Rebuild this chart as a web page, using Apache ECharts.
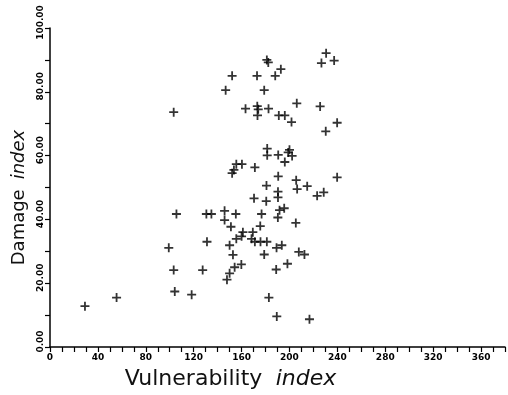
<!DOCTYPE html>
<html>
<head>
<meta charset="utf-8">
<script src="https://cdn.jsdelivr.net/npm/echarts@6/dist/echarts.min.js"></script>
<style>
  html, body { margin: 0; padding: 0; background: #fff; }
  #chart { width: 508px; height: 395px; }
</style>
</head>
<body>
<div id="chart"></div>
<script>
// vulnerability index (x) and damage index (y)
const vulnerability = [
  29.2, 55.6, 103.3, 105.6, 99.2, 103.3, 104.2, 118.3, 127.5, 131.1,
  130.6, 134.8, 146.7, 152.1, 172.9, 163.3, 173.1, 173.9, 173.3, 178.9,
  181.1, 182.3, 188.1, 192.8, 182.5, 191.1, 196.1, 201.7, 206.1, 225.6,
  230.6, 226.7, 237.3, 239.8, 230.3, 181.4, 181.4, 190.6, 200.0, 198.9,
  202.2, 196.1, 155.6, 160.3, 153.6, 152.1, 171.1, 190.6, 205.6, 239.8,
  180.8, 206.4, 214.8, 190.4, 190.4, 223.1, 228.6, 170.4, 180.6, 145.8,
  145.8, 155.2, 151.1, 176.7, 175.6, 191.7, 195.6, 190.3, 205.3, 161.1,
  160.0, 155.6, 169.4, 168.3, 171.1, 175.8, 181.1, 150.0, 152.8, 189.2,
  193.6, 207.8, 178.9, 154.2, 159.8, 150.0, 147.8, 188.9, 198.3, 182.8,
  189.4, 216.7, 212.5
];
const damage = [
  12.8, 15.5, 73.6, 41.7, 31.1, 24.1, 17.4, 16.4, 24.1, 33.0,
  41.7, 41.7, 80.5, 85.0, 85.0, 74.7, 75.5, 74.5, 72.6, 80.5,
  90.0, 89.2, 85.0, 87.1, 74.7, 72.6, 72.6, 70.5, 76.4, 75.4,
  92.1, 89.0, 89.8, 70.3, 67.6, 62.2, 60.1, 60.2, 61.8, 61.0,
  59.9, 58.0, 57.3, 57.3, 55.5, 54.5, 56.3, 53.5, 52.3, 53.2,
  50.6, 49.5, 50.4, 48.7, 46.9, 47.4, 48.5, 46.6, 45.7, 42.7,
  39.8, 41.7, 37.7, 41.7, 37.9, 42.9, 43.5, 40.6, 38.9, 36.0,
  34.7, 33.9, 36.0, 33.9, 33.0, 33.0, 33.0, 31.9, 28.9, 31.1,
  31.9, 29.8, 29.0, 25.0, 25.9, 23.1, 21.1, 24.3, 26.1, 15.5,
  9.6, 8.7, 29.0
];

const chart = echarts.init(document.getElementById('chart'));

const plus = 'path://M-0.2,-1H0.2V-0.2H1V0.2H0.2V1H-0.2V0.2H-1V-0.2H-0.2Z';

const option = {
  backgroundColor: '#fff',
  animation: false,
  grid: { left: 50, right: 2, top: 28, bottom: 46 },
  xAxis: {
    type: 'value',
    min: 0,
    max: 380,
    interval: 10,
    name: '{a|Vulnerability}    {b|index}',
    nameLocation: 'middle',
    nameGap: 21,
    nameTextStyle: {
      padding: [0, 94, 0, 0],
      rich: {
        a: { fontFamily: 'DejaVu Sans', fontSize: 22, color: '#111' },
        b: { fontFamily: 'DejaVu Sans', fontSize: 22, fontStyle: 'italic', color: '#111' },
      },
    },
    axisLine: { lineStyle: { color: '#000', width: 1.5 } },
    axisTick: { length: 5, lineStyle: { color: '#000', width: 1.2 } },
    splitLine: { show: false },
    axisLabel: {
      margin: 6,
      fontFamily: 'DejaVu Sans',
      fontSize: 9,
      fontWeight: 'bold',
      color: '#000',
      formatter: (v) => (v % 40 === 0 ? String(v) : ''),
    },
  },
  yAxis: {
    type: 'value',
    min: 0,
    max: 100,
    interval: 10,
    name: '{a|Damage}   {b|index}',
    nameLocation: 'middle',
    nameGap: 18,
    nameTextStyle: {
      padding: [0, 20, 0, 0],
      rich: {
        a: { fontFamily: 'DejaVu Sans', fontSize: 18, color: '#111' },
        b: { fontFamily: 'DejaVu Sans', fontSize: 18, fontStyle: 'italic', color: '#111' },
      },
    },
    axisLine: { lineStyle: { color: '#000', width: 1.5 } },
    axisTick: { length: 5, lineStyle: { color: '#000', width: 1.2 } },
    splitLine: { show: false },
    axisLabel: {
      rotate: 90,
      margin: 5,
      align: 'center',
      verticalAlign: 'bottom',
      padding: [0, 0, 0, 11],
      fontFamily: 'DejaVu Sans',
      fontSize: 9,
      fontWeight: 'bold',
      color: '#000',
      formatter: (v) => (v % 20 === 0 ? v.toFixed(2) : ''),
    },
  },
  series: [
    {
      type: 'scatter',
      symbol: plus,
      symbolSize: 9,
      itemStyle: { color: '#000' },
      data: vulnerability.map((x, i) => [x, damage[i]]),
    },
  ],
};

chart.setOption(option);
</script>
</body>
</html>
